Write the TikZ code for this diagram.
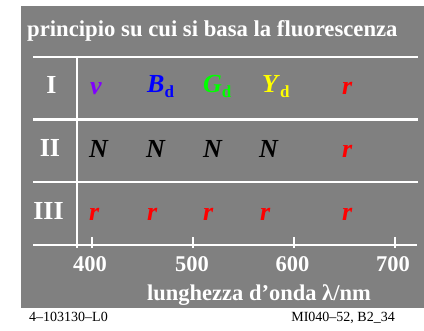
\documentclass[tikz,border=0pt]{standalone}
\usepackage{fontspec}
\setmainfont{Liberation Serif}
\definecolor{bggray}{RGB}{128,128,128}
\definecolor{violetc}{RGB}{128,0,255}
\definecolor{bluec}{RGB}{0,0,255}
\definecolor{greenc}{RGB}{0,255,0}
\definecolor{yellowc}{RGB}{255,255,0}
\definecolor{redc}{RGB}{255,0,0}
\newcommand{\subd}{\textup{\fontsize{17}{19}\selectfont\raisebox{-5pt}{d}}}
\begin{document}
\begin{tikzpicture}[x=1pt,y=-1pt,
  wline/.style={draw=white,line width=2.2pt},
  title/.style={text=white,font=\fontsize{22.7}{26}\selectfont\bfseries,inner sep=0pt,anchor=base west},
  rowlab/.style={text=white,font=\fontsize{26}{30}\selectfont\bfseries,inner sep=0pt,anchor=base},
  sym/.style={font=\fontsize{26}{30}\selectfont\bfseries\itshape,inner sep=0pt,anchor=base west},
  ticklab/.style={text=white,font=\fontsize{22.5}{26}\selectfont\bfseries,inner sep=0pt,anchor=base},
  foot/.style={text=black,font=\fontsize{14}{16}\selectfont,inner sep=0pt,anchor=base west}]
\useasboundingbox (0,0) rectangle (424,331);
\fill[bggray] (21,6) rectangle (424,308);
\node[title] (t) at (27,37) {principio su cui si basa la fluorescenza};
% grid lines
\coordinate (h1a) at (33,57);  \coordinate (h1b) at (418,57);
\coordinate (h2a) at (33,119.5); \coordinate (h2b) at (418,119.5);
\coordinate (h3a) at (33,181.7); \coordinate (h3b) at (418,181.7);
\coordinate (axa) at (33,245); \coordinate (axb) at (417,245);
\coordinate (va) at (77,57); \coordinate (vb) at (77,248);
\draw[wline] (h1a) -- (h1b);
\draw[wline] (h2a) -- (h2b);
\draw[wline] (h3a) -- (h3b);
\draw[wline] (axa) -- (axb);
\draw[wline] (va) -- (vb);
\foreach \x/\n in {92.3/a,193.3/b,294.3/c,395.3/d}{
  \coordinate (tk\n1) at (\x,237);
  \coordinate (tk\n2) at (\x,248);
  \draw[wline] (tk\n1) -- (tk\n2);
}
% row labels
\node[rowlab] (r1) at (51.5,94) {I};
\node[rowlab] (r2) at (50,157) {II};
\node[rowlab] (r3) at (48.5,220) {III};
% row I
\node[sym,text=violetc] (v1) at (90,95) {v};
\node[sym,text=bluec] (b1) at (147,93) {B\subd};
\node[sym,text=greenc] (g1) at (203,93) {G\subd};
\node[sym,text=yellowc] (y1) at (262,93) {Y\subd};
\node[sym,text=redc] (rr1) at (342,95) {r};
% row II
\node[sym,text=black] (n1) at (89,157.5) {N};
\node[sym,text=black] (n2) at (146,157.5) {N};
\node[sym,text=black] (n3) at (203,157.5) {N};
\node[sym,text=black] (n4) at (259,157.5) {N};
\node[sym,text=redc] (rr2) at (342,158) {r};
% row III
\node[sym,text=redc] (s1) at (89,221) {r};
\node[sym,text=redc] (s2) at (147,221) {r};
\node[sym,text=redc] (s3) at (203,221) {r};
\node[sym,text=redc] (s4) at (260,221) {r};
\node[sym,text=redc] (s5) at (342,221) {r};
% tick labels
\node[ticklab] (l400) at (90,272) {400};
\node[ticklab] (l500) at (192,272) {500};
\node[ticklab] (l600) at (292.5,272) {600};
\node[ticklab] (l700) at (393,272) {700};
\node[ticklab,anchor=base west] (xl) at (147,301) {lunghezza d’onda λ/nm};
% footer
\node[foot] (f1) at (29,322) {4–103130–L0};
\node[foot,anchor=base east] (f2) at (395,322) {MI040–52, B2\_34};
\end{tikzpicture}
\end{document}
